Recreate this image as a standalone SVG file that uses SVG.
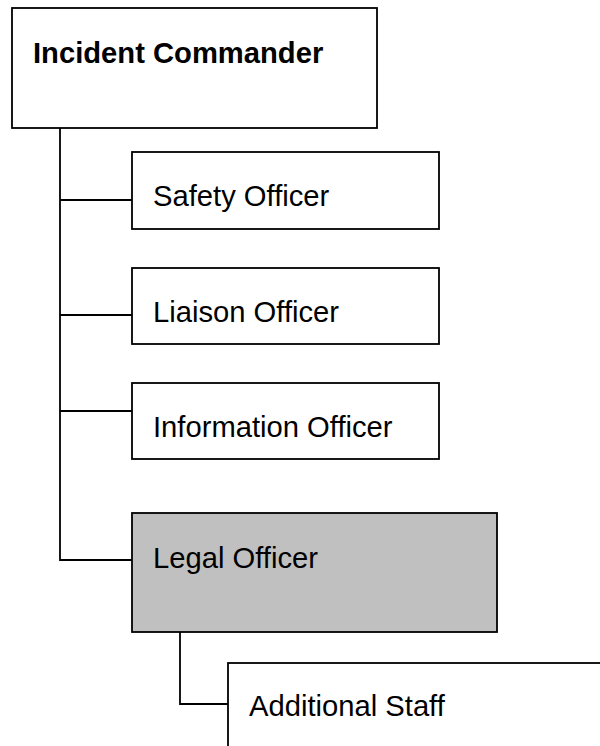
<svg xmlns="http://www.w3.org/2000/svg" width="600" height="746" viewBox="0 0 600 746">
  <style>
    .box { fill: #ffffff; stroke: #000000; stroke-width: 1.8; }
    .box.shaded { fill: #c0c0c0; }
    .lbl { font-family: "Liberation Sans", Arial, sans-serif; font-size: 29.2px; fill: #000000; }
    .lbl.bold { font-weight: bold; }
    .conn { fill: none; stroke: #000000; stroke-width: 1.8; }
  </style>
  <rect x="0" y="0" width="600" height="746" fill="#ffffff"/>

  <g id="connectors">
    <path class="conn" d="M60 128 V560 H132"/>
    <path class="conn" d="M60 200 H132"/>
    <path class="conn" d="M60 315 H132"/>
    <path class="conn" d="M60 411 H132"/>
    <path class="conn" d="M180 632 V704 H228"/>
  </g>

  <g id="incident-commander">
    <rect class="box" x="12" y="8" width="365" height="120"/>
    <text class="lbl bold" x="33" y="63">Incident Commander</text>
  </g>
  <g id="safety-officer">
    <rect class="box" x="132" y="152" width="307" height="77"/>
    <text class="lbl" x="153" y="206">Safety Officer</text>
  </g>
  <g id="liaison-officer">
    <rect class="box" x="132" y="268" width="307" height="76"/>
    <text class="lbl" x="153" y="322">Liaison Officer</text>
  </g>
  <g id="information-officer">
    <rect class="box" x="132" y="383" width="307" height="76"/>
    <text class="lbl" x="153" y="437">Information Officer</text>
  </g>
  <g id="legal-officer">
    <rect class="box shaded" x="132" y="513" width="365" height="119"/>
    <text class="lbl" x="153" y="568">Legal Officer</text>
  </g>
  <g id="additional-staff">
    <rect class="box" x="228" y="663" width="400" height="120"/>
    <text class="lbl" x="249" y="716">Additional Staff</text>
  </g>
</svg>
